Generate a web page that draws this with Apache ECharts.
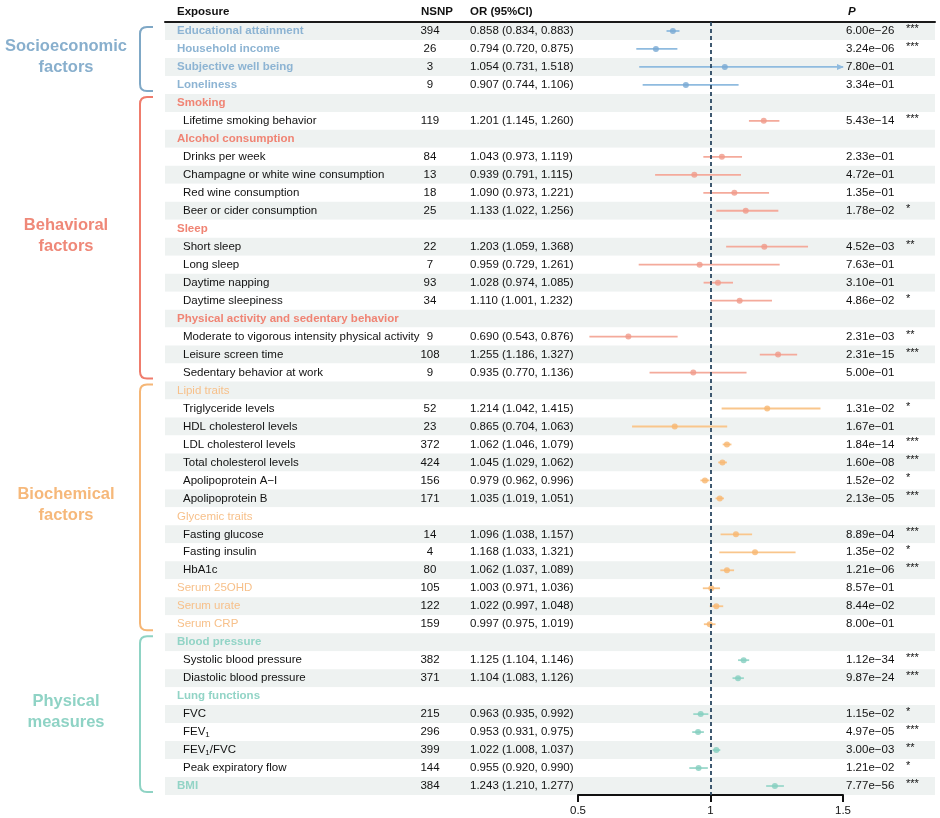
<!DOCTYPE html>
<html>
<head>
<meta charset="utf-8">
<script src="https://cdn.jsdelivr.net/npm/echarts@6/dist/echarts.min.js"></script>
<style>
html,body{margin:0;padding:0;background:#fff;}
#chart{width:940px;height:818px;}
</style>
</head>
<body>
<div id="chart"></div>
<script>
// ---------------- DATA ----------------
const exposures = [
  'Educational attainment','Household income','Subjective well being','Loneliness',
  'Smoking','Lifetime smoking behavior',
  'Alcohol consumption','Drinks per week','Champagne or white wine consumption','Red wine consumption','Beer or cider consumption',
  'Sleep','Short sleep','Long sleep','Daytime napping','Daytime sleepiness',
  'Physical activity and sedentary behavior','Moderate to vigorous intensity physical activity','Leisure screen time','Sedentary behavior at work',
  'Lipid traits','Triglyceride levels','HDL cholesterol levels','LDL cholesterol levels','Total cholesterol levels','Apolipoprotein A\u2212I','Apolipoprotein B',
  'Glycemic traits','Fasting glucose','Fasting insulin','HbA1c',
  'Serum 25OHD','Serum urate','Serum CRP',
  'Blood pressure','Systolic blood pressure','Diastolic blood pressure',
  'Lung functions','FVC','FEV{s|1}','FEV{s|1}/FVC','Peak expiratory flow',
  'BMI'
];
// 0 = coloured heading-style row, 1 = indented item row
const rowLevel = [0,0,0,0, 0,1, 0,1,1,1,1, 0,1,1,1,1, 0,1,1,1, 0,1,1,1,1,1,1, 0,1,1,1, 0,0,0, 0,1,1, 0,1,1,1,1, 0];
const nsnp = [394,26,3,9, null,119, null,84,13,18,25, null,22,7,93,34, null,9,108,9, null,52,23,372,424,156,171, null,14,4,80, 105,122,159, null,382,371, null,215,296,399,144, 384];
const orValue = [0.858,0.794,1.054,0.907, null,1.201, null,1.043,0.939,1.090,1.133, null,1.203,0.959,1.028,1.110, null,0.690,1.255,0.935, null,1.214,0.865,1.062,1.045,0.979,1.035, null,1.096,1.168,1.062, 1.003,1.022,0.997, null,1.125,1.104, null,0.963,0.953,1.022,0.955, 1.243];
const ciLow = [0.834,0.720,0.731,0.744, null,1.145, null,0.973,0.791,0.973,1.022, null,1.059,0.729,0.974,1.001, null,0.543,1.186,0.770, null,1.042,0.704,1.046,1.029,0.962,1.019, null,1.038,1.033,1.037, 0.971,0.997,0.975, null,1.104,1.083, null,0.935,0.931,1.008,0.920, 1.210];
const ciHigh = [0.883,0.875,1.518,1.106, null,1.260, null,1.119,1.115,1.221,1.256, null,1.368,1.261,1.085,1.232, null,0.876,1.327,1.136, null,1.415,1.063,1.079,1.062,0.996,1.051, null,1.157,1.321,1.089, 1.036,1.048,1.019, null,1.146,1.126, null,0.992,0.975,1.037,0.990, 1.277];
const pValue = ['6.00e\u221226','3.24e\u221206','7.80e\u221201','3.34e\u221201', '', '5.43e\u221214', '', '2.33e\u221201','4.72e\u221201','1.35e\u221201','1.78e\u221202', '', '4.52e\u221203','7.63e\u221201','3.10e\u221201','4.86e\u221202', '', '2.31e\u221203','2.31e\u221215','5.00e\u221201', '', '1.31e\u221202','1.67e\u221201','1.84e\u221214','1.60e\u221208','1.52e\u221202','2.13e\u221205', '', '8.89e\u221204','1.35e\u221202','1.21e\u221206', '8.57e\u221201','8.44e\u221202','8.00e\u221201', '', '1.12e\u221234','9.87e\u221224', '', '1.15e\u221202','4.97e\u221205','3.00e\u221203','1.21e\u221202', '7.77e\u221256'];
const stars = ['***','***','','', '', '***', '', '','','','*', '', '**','','','*', '', '**','***','', '', '*','','***','***','*','***', '', '***','*','***', '','','', '', '***','***', '', '*','***','**','*', '***'];
const groupNames = ['Socioeconomic\nfactors','Behavioral\nfactors','Biochemical\nfactors','Physical\nmeasures'];
const groupStart = [0,4,20,34];
const groupEnd = [3,19,33,42];
const headers = ['Exposure','NSNP','OR (95%CI)','P'];
const xTicks = [0.5, 1, 1.5];
const refValue = 1;

// ---------------- STYLE / LAYOUT ----------------
const FONT = '"Liberation Sans", Arial, Helvetica, sans-serif';
const FS = 11.5;
const lineColors  = ['#8fbbdf','#f4aa9b','#f9c68c','#9bd8cb'];
const pointColors = ['#78a9d3','#f09a89','#f7b771','#84cebf'];
const textColors  = ['#8db4d3','#f08474','#f7c08a','#92d4c6'];
const labelColors = ['#88afcd','#ef8878','#f6b87a','#8fd3c5'];
const bracketColors = ['#7fa8c6','#ef7c6c','#f5b676','#8fd3c4'];
const textWeights = ['bold','bold','normal','bold'];
const X_NAME0 = 177, X_NAME1 = 183, X_NSNP = 430, X_OR = 470, X_P = 846, X_STAR = 906;
const GRID_TOP = 22, GRID_BOTTOM = 23;

const N = exposures.length;
const rowIdx = exposures.map((_, i) => String(i));
function groupOf(i){ for (let g=0; g<groupStart.length; g++){ if (i>=groupStart[g] && i<=groupEnd[g]) return g; } return 0; }

function txt(x, y, text, opt){
  opt = opt || {};
  return {
    type: 'text',
    style: Object.assign({
      x: x, y: y, text: text,
      fontFamily: FONT, fontSize: FS, fill: '#111',
      align: opt.align || 'left', verticalAlign: 'middle',
      textAlign: opt.align || 'left', textVerticalAlign: 'middle'
    }, opt.style || {})
  };
}

const rowData = exposures.map((_, i) => [refValue, i]);
const ciRows = [];
const pointData = [];
for (let i = 0; i < N; i++) {
  if (orValue[i] == null) continue;
  ciRows.push([ciLow[i], ciHigh[i], i]);
  pointData.push({ value: [orValue[i], i], itemStyle: { color: pointColors[groupOf(i)] } });
}

const XMIN = xTicks[0], XMAX = xTicks[xTicks.length - 1];

const option = {
  animation: false,
  backgroundColor: '#fff',
  grid: [
    { left: 165, right: 5, top: GRID_TOP, bottom: GRID_BOTTOM, containLabel: false },
    { left: 578, right: 97, top: GRID_TOP, bottom: GRID_BOTTOM, containLabel: false }
  ],
  xAxis: [
    { gridIndex: 0, type: 'value', min: 0, max: 1, position: 'top',
      axisLine: { show: true, onZero: false, lineStyle: { color: '#1a1a1a', width: 2 } },
      axisTick: { show: false }, axisLabel: { show: false }, splitLine: { show: false } },
    { gridIndex: 1, type: 'value', min: XMIN, max: XMAX, interval: xTicks[1] - xTicks[0],
      axisLine: { show: true, onZero: false, lineStyle: { color: '#111', width: 2 } },
      axisTick: { show: true, length: 7, lineStyle: { color: '#111', width: 2 } },
      axisLabel: { color: '#111', fontSize: FS, fontFamily: FONT, margin: 10 },
      splitLine: { show: false } }
  ],
  yAxis: [
    { gridIndex: 0, type: 'category', data: rowIdx, inverse: true,
      axisLine: { show: false }, axisTick: { show: false }, axisLabel: { show: false },
      splitLine: { show: false },
      splitArea: { show: true, areaStyle: { color: ['#eef2f1', '#ffffff'] } } },
    { gridIndex: 1, type: 'category', data: rowIdx, inverse: true, show: false }
  ],
  graphic: [
    txt(X_NAME0, 12, headers[0], { style: { fontWeight: 'bold' } }),
    txt(421, 12, headers[1], { style: { fontWeight: 'bold' } }),
    txt(X_OR, 12, headers[2], { style: { fontWeight: 'bold' } }),
    txt(848, 12, headers[3], { style: { fontWeight: 'bold', fontStyle: 'italic' } })
  ].map(e => Object.assign(e, { z: 10 })),
  series: [
    {
      name: 'table', type: 'custom', xAxisIndex: 1, yAxisIndex: 1, z: 5,
      data: rowData, encode: { x: 0, y: 1 }, silent: true, clip: false,
      renderItem: function (params, api) {
        const i = params.dataIndex;
        const y = api.coord([refValue, i])[1];
        const g = groupOf(i);
        const ch = [];
        const lvl = rowLevel[i];
        const nameStyle = lvl === 0
          ? { fill: textColors[g], fontWeight: textWeights[g] }
          : { fill: '#111', fontWeight: 'normal' };
        nameStyle.lineHeight = 14;
        nameStyle.rich = { s: { fontSize: 8, fontFamily: FONT, fill: '#111', verticalAlign: 'bottom', lineHeight: 14 } };
        ch.push(txt(lvl === 0 ? X_NAME0 : X_NAME1, y, exposures[i], { style: nameStyle }));
        if (nsnp[i] != null) ch.push(txt(X_NSNP, y, String(nsnp[i]), { align: 'center' }));
        if (orValue[i] != null) {
          ch.push(txt(X_OR, y, orValue[i].toFixed(3) + ' (' + ciLow[i].toFixed(3) + ', ' + ciHigh[i].toFixed(3) + ')'));
          ch.push(txt(X_P, y, pValue[i]));
          if (stars[i]) ch.push(txt(X_STAR, y - 2, stars[i], { style: { fontSize: 11 } }));
        }
        return { type: 'group', children: ch };
      }
    },
    {
      name: 'groups', type: 'custom', xAxisIndex: 1, yAxisIndex: 1, z: 5,
      data: groupStart.map((s, g) => [refValue, s]), encode: { x: 0, y: 1 }, silent: true, clip: false,
      renderItem: function (params, api) {
        const g = params.dataIndex;
        const rh = api.size([0, 1])[1];
        const top = api.coord([refValue, groupStart[g]])[1] - rh / 2 + (g === 0 ? 5 : 3);
        const bot = api.coord([refValue, groupEnd[g]])[1] + rh / 2 - 3;
        const xv = 140, xe = 153, r = 7;
        const path = 'M' + xe + ' ' + top + ' L' + (xv + r) + ' ' + top +
          ' Q' + xv + ' ' + top + ' ' + xv + ' ' + (top + r) +
          ' L' + xv + ' ' + (bot - r) +
          ' Q' + xv + ' ' + bot + ' ' + (xv + r) + ' ' + bot + ' L' + xe + ' ' + bot;
        return { type: 'group', children: [
          { type: 'path', shape: { pathData: path }, style: { stroke: bracketColors[g], lineWidth: 2, fill: null } },
          { type: 'text', style: { x: 66, y: (top + bot) / 2 - 2, text: groupNames[g], fontFamily: FONT, fontSize: 16.5,
              fontWeight: 'bold', fill: labelColors[g], lineHeight: 21,
              align: 'center', verticalAlign: 'middle', textAlign: 'center', textVerticalAlign: 'middle' } }
        ] };
      }
    },
    {
      name: 'CI', type: 'custom', xAxisIndex: 1, yAxisIndex: 1, z: 3,
      data: ciRows, encode: { x: [0, 1], y: 2 }, silent: true, clip: false,
      renderItem: function (params, api) {
        const lo = api.value(0), hi = api.value(1), i = api.value(2);
        const c = lineColors[groupOf(i)];
        const p1 = api.coord([Math.max(lo, XMIN), i]);
        const p2 = api.coord([Math.min(hi, XMAX), i]);
        const ch = [{ type: 'line', shape: { x1: p1[0], y1: p1[1], x2: p2[0], y2: p2[1] }, style: { stroke: c, lineWidth: 1.8 } }];
        if (hi > XMAX) {
          ch.push({ type: 'polygon', shape: { points: [[p2[0] + 1, p2[1]], [p2[0] - 6, p2[1] - 3], [p2[0] - 6, p2[1] + 3]] }, style: { fill: c } });
        }
        return { type: 'group', children: ch };
      }
    },
    {
      name: 'OR', type: 'scatter', xAxisIndex: 1, yAxisIndex: 1, z: 4,
      symbol: 'circle', symbolSize: 6, data: pointData, silent: true,
      markLine: {
        silent: true, symbol: ['none', 'none'], label: { show: false },
        lineStyle: { type: [4, 3], color: '#2b4862', width: 1.8 },
        data: [{ xAxis: refValue }]
      }
    }
  ]
};

const chart = echarts.init(document.getElementById('chart'), null, { renderer: 'canvas' });
chart.setOption(option);
</script>
</body>
</html>
